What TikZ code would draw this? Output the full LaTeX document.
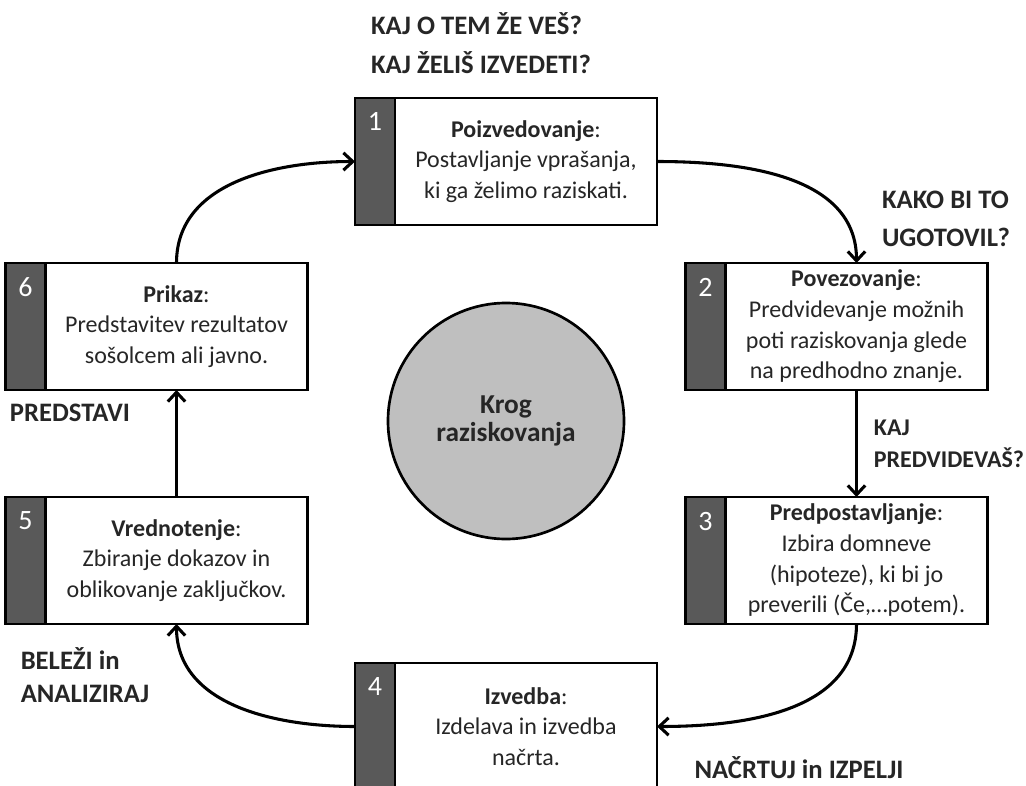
\documentclass[tikz,border=0pt]{standalone}
\usepackage{fontspec}
\setmainfont{Carlito}
\usetikzlibrary{positioning,arrows.meta}
\definecolor{txtgray}{HTML}{262626}
\definecolor{bargray}{HTML}{595959}
\definecolor{krogfill}{HTML}{BFBFBF}

\begin{document}
\begin{tikzpicture}[x=0.75pt,y=-0.75pt,
	korak/.style={draw,line width=2pt,fill=white,minimum width=196.5pt,minimum height=95.25pt,inner sep=0pt,outer sep=0pt,align=center,text=txtgray,font=\fontsize{18}{23}\selectfont},
	bar/.style={draw,line width=2pt,fill=bargray,minimum width=30pt,minimum height=95.25pt,inner sep=0pt,outer sep=0pt},
	stevilka/.style={text=white,font=\fontsize{21}{24}\selectfont,inner sep=0pt},
	vprasanje/.style={align=left,text=txtgray,font=\bfseries\fontsize{20}{29}\selectfont},
	puscica/.style={line width=2.3pt,-{Straight Barb[length=7pt,width=13pt]}}]
	\useasboundingbox (0,0) rectangle (1026,786);

	\node[korak] (b1) at (526,161.5) {\textbf{Poizvedovanje}:\\Postavljanje vprašanja,\\ki ga želimo raziskati.};
	\node[bar,left=0pt of b1] (n1) {};
	\node[stevilka,below=11pt of n1.north] (k1) {1};

	\node[korak] (b2) at (856.5,326.5) {\textbf{Povezovanje}:\\Predvidevanje možnih\\poti raziskovanja glede\\na predhodno znanje.};
	\node[bar,left=0pt of b2] (n2) {};
	\node[stevilka,below=11pt of n2.north] (k2) {2};

	\node[korak] (b3) at (856.5,560.5) {\textbf{Predpostavljanje}:\\Izbira domneve\\(hipoteze), ki bi jo\\preverili (Če,…potem).};
	\node[bar,left=0pt of b3] (n3) {};
	\node[stevilka,below=11pt of n3.north] (k3) {3};

	\node[korak] (b4) at (526,726.5) {\textbf{Izvedba}:\\Izdelava in izvedba\\načrta.};
	\node[bar,left=0pt of b4] (n4) {};
	\node[stevilka,below=11pt of n4.north] (k4) {4};

	\node[korak] (b5) at (176.5,560.5) {\textbf{Vrednotenje}:\\Zbiranje dokazov in\\oblikovanje zaključkov.};
	\node[bar,left=0pt of b5] (n5) {};
	\node[stevilka,below=11pt of n5.north] (k5) {5};

	\node[korak] (b6) at (176.5,326.5) {\textbf{Prikaz}:\\Predstavitev rezultatov\\sošolcem ali javno.};
	\node[bar,left=0pt of b6] (n6) {};
	\node[stevilka,below=11pt of n6.north] (k6) {6};

	\node[circle,draw,line width=2pt,fill=krogfill,minimum size=177pt,align=center,text=txtgray,font=\bfseries\fontsize{20.5}{20.5}\selectfont] (krog) at (506,421) {Krog\\raziskovanja};

	\node[vprasanje] (q1) at (481,43) {KAJ O TEM ŽE VEŠ?\\KAJ ŽELIŠ IZVEDETI?};
	\node[vprasanje,font=\bfseries\fontsize{20}{28.5}\selectfont] (q2) at (946,219) {KAKO BI TO\\UGOTOVIL?};
	\node[vprasanje,font=\bfseries\fontsize{18}{24}\selectfont] (q3) at (949,444) {KAJ\\PREDVIDEVAŠ?};
	\node[vprasanje] (q4) at (799,768) {NAČRTUJ in IZPELJI};
	\node[vprasanje,font=\bfseries\fontsize{20}{24.5}\selectfont] (q5) at (85,675) {BELEŽI in\\ANALIZIRAJ};
	\node[vprasanje] (q6) at (70,413) {PREDSTAVI};

	\draw[puscica] (b6.north) to[out=90,in=180] (n1.west);
	\draw[puscica] (b1.east) to[out=0,in=90] (b2.north);
	\draw[puscica] (b2.south) -- (b3.north);
	\draw[puscica] (b3.south) to[out=-90,in=0] (b4.east);
	\draw[puscica] (n4.west) to[out=180,in=-90] (b5.south);
	\draw[puscica] (b5.north) -- (b6.south);
\end{tikzpicture}
\end{document}
